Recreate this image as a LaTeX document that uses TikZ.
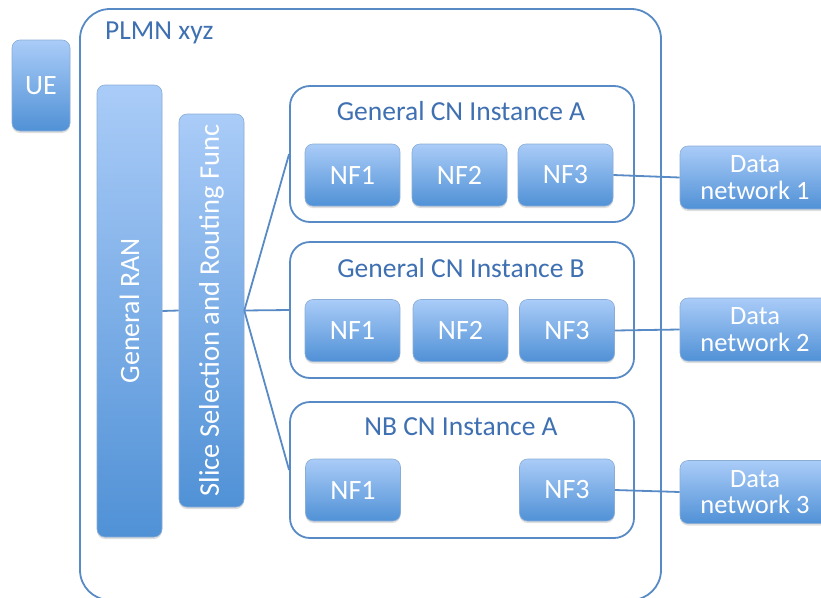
\documentclass[tikz,border=0pt]{standalone}
\usepackage{fontspec}
\setmainfont{Carlito}
\usepackage{tikz}
\usetikzlibrary{positioning}
\usetikzlibrary{shadows}
\definecolor{edgeblue}{RGB}{88,138,198}
\definecolor{textblue}{RGB}{62,112,178}
\definecolor{topblue}{RGB}{170,204,248}
\definecolor{botblue}{RGB}{80,145,214}
\tikzset{fnbox/.style = {rounded corners = 8, top color = topblue, bottom color = botblue,
                         draw = edgeblue!70, line width = 0.6, text = white, align = center,
                         inner sep = 0, font = \fontsize{28}{30}\selectfont,
                         drop shadow = {opacity = 0.25, shadow xshift = 0pt, shadow yshift = -2pt}}}
\tikzset{nfbox/.style = {fnbox, minimum width = 95, minimum height = 62}}
\tikzset{dnbox/.style = {fnbox, minimum width = 150, minimum height = 63,
                         font = \fontsize{26.5}{26.5}\selectfont}}
\tikzset{instbox/.style = {rounded corners = 20, draw = edgeblue, line width = 1.8,
                           fill = white, minimum width = 344, minimum height = 136}}
\tikzset{title/.style = {text = textblue, inner sep = 0, font = \fontsize{27.5}{30}\selectfont}}
\tikzset{link/.style = {draw = edgeblue, line width = 1.8}}

\begin{document}
\begin{tikzpicture}[x = 1pt, y = -1pt]
  \useasboundingbox (0, 0) rectangle (821, 597);

  \node [draw = edgeblue, line width = 1.8, rounded corners = 30, minimum width = 581,
         minimum height = 591] (plmn) at (370.5, 304.5) {};
  \node [title, anchor = west] (plmnlabel) at (105, 33) {PLMN xyz};

  \node [fnbox, minimum width = 58, minimum height = 91] (ue) at (41, 85.5) {UE};

  \node [fnbox, minimum width = 65, minimum height = 452] (ran) at (129.5, 311) {};
  \node [rotate = 90, text = white, font = \fontsize{28}{30}\selectfont] (ranlabel) at (ran.center) {General RAN};
  \node [fnbox, minimum width = 65, minimum height = 393] (ssrf) at (211.5, 310.5) {};
  \node [rotate = 90, text = white, font = \fontsize{28.5}{30}\selectfont] (ssrflabel) at (ssrf.center) {Slice Selection and Routing Func};

  \node [instbox] (cna) at (462, 154) {};
  \node [title] (cnatitle) at (461, 111) {General CN Instance A};
  \node [nfbox] (anf1) at (352.5, 175) {NF1};
  \node [nfbox] (anf2) at (459.5, 175) {NF2};
  \node [nfbox] (anf3) at (565.5, 175) {NF3};

  \node [instbox] (cnb) at (462, 310) {};
  \node [title] (cnbtitle) at (461, 268) {General CN Instance B};
  \node [nfbox] (bnf1) at (352.5, 330.5) {NF1};
  \node [nfbox] (bnf2) at (460.5, 330.5) {NF2};
  \node [nfbox] (bnf3) at (567, 330.5) {NF3};

  \node [instbox] (nbcn) at (462, 470) {};
  \node [title] (nbcntitle) at (461, 427) {NB CN Instance A};
  \node [nfbox] (cnf1) at (353, 490) {NF1};
  \node [nfbox] (cnf3) at (567, 490) {NF3};

  \node [dnbox] (dn1) at (755, 177.5) {Data\\network 1};
  \node [dnbox] (dn2) at (755, 329.5) {Data\\network 2};
  \node [dnbox] (dn3) at (755, 492) {Data\\network 3};

  \draw [link] (ran.east) -- (ssrf.west);
  \draw [link] (ssrf.east) -- (cna.west);
  \draw [link] (ssrf.east) -- (cnb.west);
  \draw [link] (ssrf.east) -- (nbcn.west);
  \draw [link] (anf3.east) -- (dn1.west);
  \draw [link] (bnf3.east) -- (dn2.west);
  \draw [link] (cnf3.east) -- (dn3.west);
\end{tikzpicture}
\end{document}
